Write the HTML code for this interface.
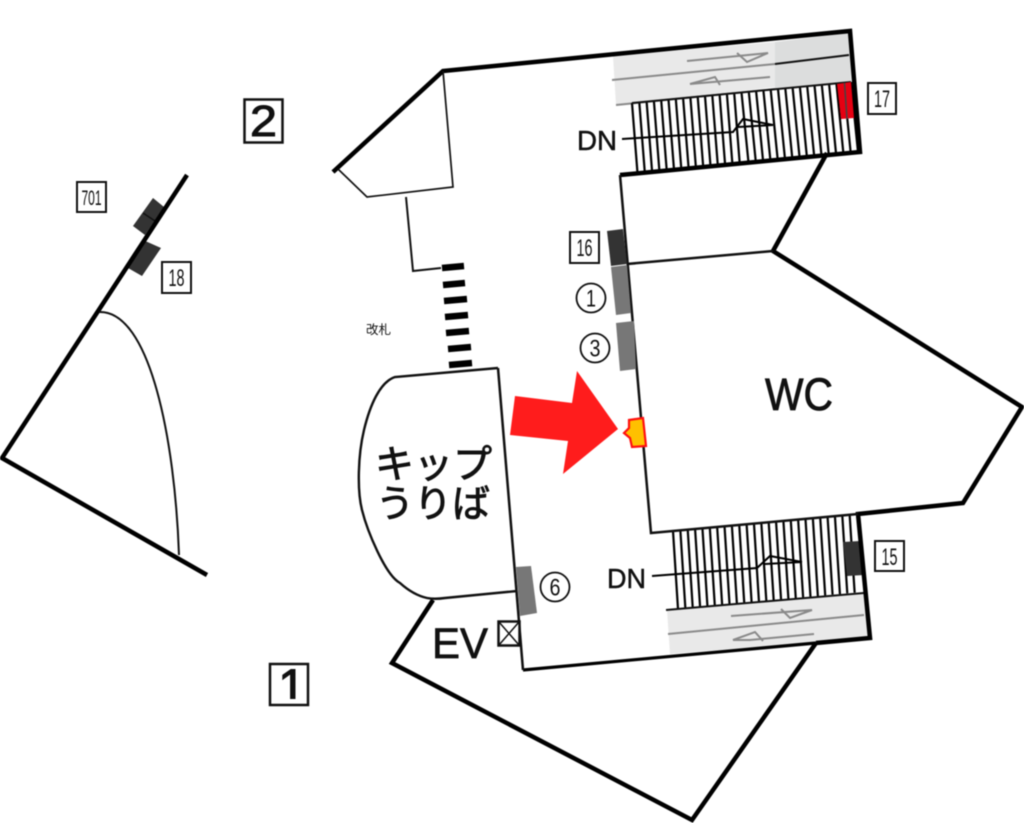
<!DOCTYPE html>
<html lang="ja">
<head>
<meta charset="utf-8">
<title>構内図</title>
<style>
html,body{margin:0;padding:0;background:#fff;width:1024px;height:823px;overflow:hidden}
svg{display:block;filter:blur(0.45px)}
text{font-family:"Liberation Sans","Noto Sans CJK JP",sans-serif;fill:#111}
.n{font-size:24px;text-anchor:middle}
.box{fill:#fff;stroke:#111;stroke-width:2}
.circ{fill:#fff;stroke:#111;stroke-width:1.8}
.thick{fill:none;stroke:#000;stroke-width:4.5;stroke-linejoin:miter}
.thin{fill:none;stroke:#111;stroke-width:1.7}
.grey{fill:none;stroke:#8a8a8a;stroke-width:2}
</style>
</head>
<body>
<svg width="1024" height="823" viewBox="0 0 1024 823" xmlns="http://www.w3.org/2000/svg">
<defs><clipPath id="c1"><rect x="270" y="660" width="38" height="39"/></clipPath></defs>
<rect width="1024" height="823" fill="#fff"/>

<!-- top escalator panels -->
<polygon points="613,56 775,42 775,87 616,105" fill="#e9e9e9"/>
<polygon points="775,42 849,33 851,81 775,88" fill="#dcdddd"/>
<path class="grey" d="M612 80L775 64M616 105L775 89"/>
<path d="M775 64L849 55" fill="none" stroke="#111" stroke-width="2"/>
<path class="grey" d="M687 61L768 53L747 62L737 53M770 77L690 84L715 77L720 85"/>

<!-- top stairs -->
<path fill="none" stroke="#000" stroke-width="2.200" d="M632 103l5.5 70m1.8 -70.7l5.5 70m1.8 -70.7l5.5 70m1.8 -70.7l5.5 70m1.8 -70.7l5.5 70m1.8 -70.7l5.5 70m1.8 -70.7l5.5 70m1.8 -70.7l5.5 70m1.8 -70.7l5.5 70m1.8 -70.7l5.5 70m1.8 -70.7l5.5 70m1.8 -70.7l5.5 70m1.8 -70.7l5.5 70m1.8 -70.7l5.5 70m1.8 -70.7l5.5 70m1.8 -70.7l7 70m.3 -70.7l7 70m.3 -70.7l7 70m.3 -70.7l7 70m.3 -70.7l7 70m.3 -70.7l7 70m.3 -70.7l7 70m.3 -70.7l7 70m.3 -70.7l7 70m.3 -70.7l7 70m.3 -70.7l7 70m.3 -70.7l7 70m.3 -70.7l7 70m.3 -70.7l7 70m.3 -70.7l7 70m.3 -70.7l7 70"/>
<path d="M632 103L851 82" fill="none" stroke="#111" stroke-width="2"/>
<polygon points="837,84 851,82 854,118 841,119" fill="#e60012"/>
<path d="M844.500 83L847 119" stroke="#444" stroke-width="1.500" fill="none"/>
<path d="M622 139L733 132L743 119L773 125L738 127" fill="none" stroke="#000" stroke-width="2"/>

<!-- bottom escalator panels -->
<polygon points="667,610 864,594 868,638 670,654" fill="#e9e9e9"/>
<path class="grey" d="M668 634L864 615"/>
<path class="grey" d="M731 616L812 610L790 618L781 609M814 634L750 640L733 640L755 632L763 641"/>

<!-- bottom stairs -->
<path fill="none" stroke="#000" stroke-width="2.200" d="M673 531l5 78m2.360 -78.680l5 78m2.360 -78.680l5 78m2.360 -78.680l5 78m2.360 -78.680l5 78m2.360 -78.680l5 78m2.360 -78.680l5 78m2.360 -78.680l5 78m2.360 -78.680l5 78m2.360 -78.680l5 78m2.360 -78.680l5 78m2.360 -78.680l5 78m2.360 -78.680l5 78m2.360 -78.680l5 78m2.360 -78.680l5 78m2.360 -78.680l5 78m2.360 -78.680l5 78m2.360 -78.680l5 78m2.360 -78.680l5 78m2.360 -78.680l5 78m2.360 -78.680l5 78m2.360 -78.680l5 78m2.360 -78.680l5 78m2.360 -78.680l5 78m2.360 -78.680l5 78"/>
<path d="M666 610L864 593" fill="none" stroke="#111" stroke-width="2"/>
<polygon points="843,542 860,541 864,575 847,576" fill="#333"/>
<path d="M652 576L757 568L770 556L802 562L765 564" fill="none" stroke="#000" stroke-width="2"/>

<!-- left blocks under the wall -->
<polygon points="153,198 164,207 145,235 133,226" fill="#333"/>
<path d="M143 213L155 221" stroke="#111" stroke-width="1.500"/>
<polygon points="143,240 161,248 142,276 128,268" fill="#333"/>

<!-- main walls -->
<path class="thick" d="M333 172L443 71L850 31L860 152L620 175"/>
<path class="thick" d="M827 153L773 251L1022 407L963 503L858 514L870 638L816 643"/>
<path d="M816 643L523 670" fill="none" stroke="#000" stroke-width="3.200"/>
<path class="thick" d="M433 600L392 663L692 820L816 643"/>
<path d="M620 175L651 533L858 514" fill="none" stroke="#111" stroke-width="2.500"/>
<path d="M627 264L773 251" fill="none" stroke="#111" stroke-width="2.500"/>
<path d="M443 71L453 187L367 197L338 169" class="thin"/>
<path d="M406 197L413 271L441 268" fill="none" stroke="#111" stroke-width="2"/>

<!-- ticket booth -->
<path d="M498 368L395 377C380 382 370 405 364 430C358 455 357 490 362 510C367 530 385 575 400 583C410 592 418 596 427 598C432 599 438 599 445 598L517 591" fill="none" stroke="#111" stroke-width="2.400"/>
<path d="M498 368L523 670" fill="none" stroke="#111" stroke-width="2.500"/>

<!-- gate bars -->
<g stroke="#000" stroke-width="6.500" fill="none">
<path d="M442 268L464 266M443 285L465 283M444 301L467 299M445 317L468 315M446 333L469 331M448 349L471 347M449 365L472 363"/>
</g>

<!-- left area -->
<path class="thick" d="M187 175L2 458L207 575"/>
<path d="M99 312C150 310 175 440 179 555" fill="none" stroke="#111" stroke-width="2"/>

<!-- side blocks -->
<polygon points="607,231 623,229 627,264 611,266" fill="#333"/>
<polygon points="611,267 627,265 631,313 616,315" fill="#777"/>
<polygon points="616,323 634,321 636,369 620,371" fill="#777"/>
<polygon points="516,567 531,566 537,613 520,616" fill="#777"/>

<!-- red arrow and marker -->
<polygon points="515,396 572,403 577,371 618,429 563,474 568,441 510,435" fill="#ff1c1c"/>
<polygon points="629,420 643,418 646,446 632,447 630,438 624,433 629,428" fill="#ffc000" stroke="#ff1010" stroke-width="2.200"/>

<!-- EV box -->
<rect x="498.500" y="621.500" width="21" height="24" fill="#fff" stroke="#111" stroke-width="2.500"/>
<path d="M499 622L519 645M519 622L499 645" stroke="#111" stroke-width="1.500"/>

<!-- number boxes -->
<rect class="box" x="77" y="182" width="29" height="30"/>
<text class="n" x="91.500" y="205" style="font-size:21px" textLength="20" lengthAdjust="spacingAndGlyphs">701</text>
<rect class="box" x="162" y="262" width="29" height="31"/>
<text class="n" x="176.500" y="286" textLength="16" lengthAdjust="spacingAndGlyphs">18</text>
<rect class="box" x="868" y="83" width="28" height="31"/>
<text class="n" x="882" y="107" textLength="16" lengthAdjust="spacingAndGlyphs">17</text>
<rect class="box" x="570" y="232" width="29" height="31"/>
<text class="n" x="584.500" y="256" textLength="16" lengthAdjust="spacingAndGlyphs">16</text>
<rect class="box" x="875" y="541" width="29" height="30"/>
<text class="n" x="889.500" y="565" textLength="16" lengthAdjust="spacingAndGlyphs">15</text>

<rect x="244.500" y="99.500" width="38" height="43" fill="#fff" stroke="#111" stroke-width="2.500"/>
<text x="263.500" y="136" text-anchor="middle" style="font-size:44px" stroke="#111" stroke-width="1" textLength="27" lengthAdjust="spacingAndGlyphs">2</text>
<rect x="270" y="664" width="38" height="41" fill="#fff" stroke="#111" stroke-width="2.500"/>
<text x="278" y="704" style="font-size:50px" stroke="#111" stroke-width="1" clip-path="url(#c1)">1</text>

<!-- circles -->
<circle class="circ" cx="591" cy="298" r="14.500"/>
<text class="n" x="591" y="306.500" textLength="10" lengthAdjust="spacingAndGlyphs">1</text>
<circle class="circ" cx="595" cy="348" r="14.500"/>
<text class="n" x="595" y="356.500" textLength="11" lengthAdjust="spacingAndGlyphs">3</text>
<circle class="circ" cx="555" cy="587" r="14.500"/>
<text class="n" x="555" y="595.500" textLength="11" lengthAdjust="spacingAndGlyphs">6</text>

<!-- labels -->
<text x="577" y="150" style="font-size:28px" stroke="#111" stroke-width="0.500" textLength="40" lengthAdjust="spacingAndGlyphs">DN</text>
<text x="607" y="588" style="font-size:28px" stroke="#111" stroke-width="0.500" textLength="39" lengthAdjust="spacingAndGlyphs">DN</text>
<text x="765" y="410" style="font-size:45px" stroke="#111" stroke-width="0.800" textLength="68" lengthAdjust="spacingAndGlyphs">WC</text>
<text x="432" y="658" style="font-size:43px" stroke="#111" stroke-width="0.700" textLength="56" lengthAdjust="spacingAndGlyphs">EV</text>
<text x="375" y="478" style="font-size:39px" stroke="#111" stroke-width="0.900" textLength="117" lengthAdjust="spacingAndGlyphs">キップ</text>
<text x="376" y="517" style="font-size:38px" stroke="#111" stroke-width="0.900" textLength="114" lengthAdjust="spacingAndGlyphs">うりば</text>
<text x="366" y="334" style="font-size:12.500px">改札</text>
</svg>
</body>
</html>
